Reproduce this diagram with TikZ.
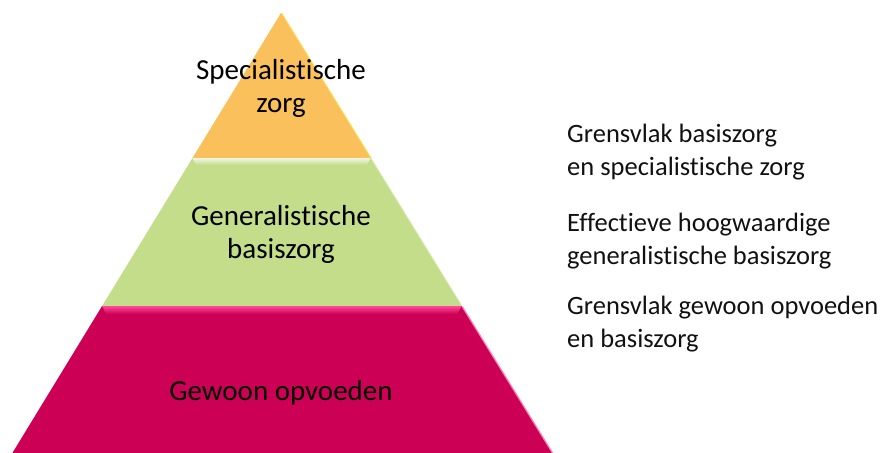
\documentclass[tikz,border=0pt]{standalone}
\usepackage{fontspec}
\setmainfont{Carlito}[RawFeature=-liga]
\definecolor{orng}{HTML}{F9C05B}
\definecolor{grn}{HTML}{C3DD8A}
\definecolor{mag}{HTML}{CC0055}
\definecolor{pnk}{HTML}{FF4A97}
\definecolor{txt}{HTML}{111111}
\tikzset{
  pyrlabel/.style={font=\fontsize{29}{32.5}\selectfont, text=black, align=center, anchor=base, inner sep=0pt},
  sidelabel/.style={font=\fontsize{26.5}{32.5}\selectfont, text=txt, align=left, anchor=base west, inner sep=0pt},
}
\begin{document}
\begin{tikzpicture}[x=1pt,y=-1pt]
\useasboundingbox (0,0) rectangle (885,452);
\clip (0,0) rectangle (885,452);
% bands
\fill[orng] (281,13) -- (370.5,158) -- (192.5,158) -- cycle;
\fill[grn] (192.5,158) -- (370.5,158) -- (461.8,306) -- (102.1,306) -- cycle;
\fill[mag] (102.1,306) -- (461.8,306) -- (563,470) -- (2,470) -- cycle;
% bevels
\shade[top color=grn!25!white, bottom color=grn] (192.5,158) -- (370.5,158) -- (367,165) -- (196,165) -- cycle;
\shade[top color=pnk, bottom color=mag] (102.1,306) -- (461.8,306) -- (457,314) -- (106,314) -- cycle;
\draw[pnk!70!white, line width=1.2pt] (462.5,307) -- (563,470);
\draw[orng!60!yellow, line width=0.8pt] (281.5,13) -- (371,158);
\draw[grn!60!white, line width=0.8pt] (371,158) -- (462,306);
% pyramid labels (anchor = baseline of last line)
\node[pyrlabel] (spec) at (281,112) {Specialistische\\zorg};
\node[pyrlabel] (gen) at (281,258) {Generalistische\\basiszorg};
\node[pyrlabel] (gew) at (281,400) {Gewoon opvoeden};
% side labels (anchor = baseline of last line)
\node[sidelabel] (s1) at (567,175) {Grensvlak basiszorg\\en specialistische zorg};
\node[sidelabel] (s2) at (567,264) {Effectieve hoogwaardige\\generalistische basiszorg};
\node[sidelabel] (s3) at (567,347) {Grensvlak gewoon opvoeden\\en basiszorg};
\end{tikzpicture}
\end{document}
